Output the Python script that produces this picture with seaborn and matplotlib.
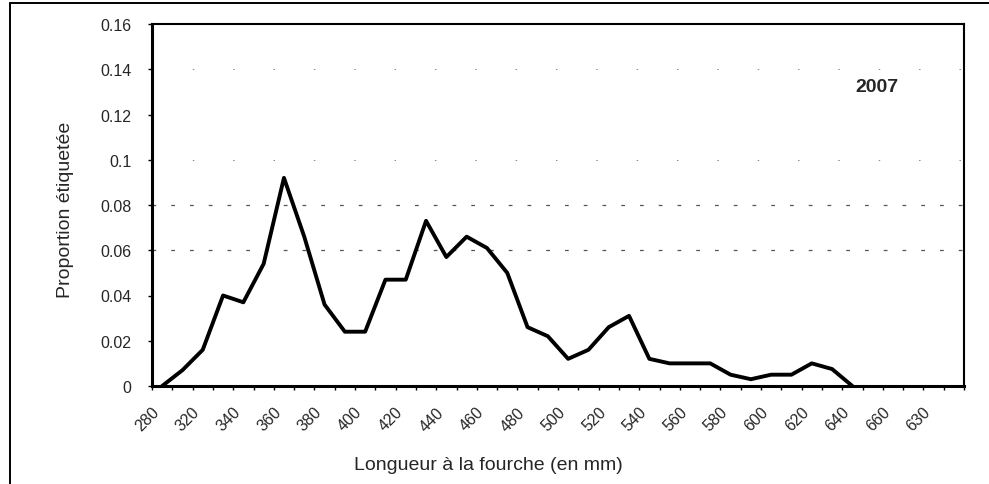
import matplotlib
matplotlib.use("Agg")
import matplotlib.pyplot as plt
from matplotlib.lines import Line2D
import numpy as np
import pandas as pd
import seaborn as sns

# ---- data ----
lengths = list(range(280, 680, 10))          # 40 length classes (mm)
proportion = [0.0, 0.007, 0.016, 0.040, 0.037, 0.054, 0.092, 0.066, 0.036,
              0.024, 0.024, 0.047, 0.047, 0.073, 0.057, 0.066, 0.061, 0.050,
              0.026, 0.022, 0.012, 0.016, 0.026, 0.031, 0.012, 0.010, 0.010,
              0.010, 0.005, 0.003, 0.005, 0.005, 0.010, 0.0075, 0.0]
x_tick_labels = ["280", "320", "340", "360", "380", "400", "420", "440", "460",
                 "480", "500", "520", "540", "560", "580", "600", "620", "640",
                 "660", "630"]
y_ticks = [0, 0.02, 0.04, 0.06, 0.08, 0.1, 0.12, 0.14, 0.16]
y_tick_labels = ["0", "0.02", "0.04", "0.06", "0.08", "0.1", "0.12", "0.14", "0.16"]
grid_strong = [0.06, 0.08]
grid_faint = [0.1, 0.14]
year_label = "2007"

sns.set_theme(style="white")
plt.rcParams["font.family"] = ["Liberation Sans", "DejaVu Sans"]

W, H = 989, 485
fig = plt.figure(figsize=(W / 100, H / 100), dpi=100)
ax = fig.add_axes([152 / W, 1 - 387 / H, (964 - 152) / W, (387 - 25) / H])

n_cat = len(lengths)
df = pd.DataFrame({
    "pos": np.arange(len(proportion)) + 0.5,
    "prop": proportion,
})

for g in grid_strong:
    ax.axhline(g, color="#555555", lw=0.9, ls=(0, (3, 12)), zorder=1)
for g in grid_faint:
    ax.axhline(g, color="#888888", lw=0.7, ls=(0, (1.5, 40)), zorder=1)

sns.lineplot(data=df, x="pos", y="prop", color="black", lw=2.8, ax=ax,
             zorder=3, clip_on=False)

ax.set_xlim(0, n_cat)
ax.set_ylim(0, 0.16)

ax.set_xticks(np.arange(0, n_cat, 2) + 0.5)
ax.set_xticklabels(x_tick_labels, rotation=45, ha="right", fontsize=11.5)
ax.set_xticks(np.arange(0, n_cat + 1), minor=True)
ax.tick_params(axis="x", which="major", length=0, pad=13)
ax.tick_params(axis="x", which="minor", length=3, width=1, color="black",
               direction="out", bottom=True)

ax.set_yticks(y_ticks)
ax.set_yticklabels(y_tick_labels, fontsize=11.5)
ax.tick_params(axis="y", which="major", length=3, width=1, color="black",
               direction="out", left=True, pad=12)

ax.set_xlabel("Longueur à la fourche (en mm)", fontsize=14)
ax.set_ylabel("Proportion étiquetée", fontsize=14)
ax.xaxis.set_label_coords((488 - 152) / (964 - 152), -(465 - 387) / (387 - 25))
ax.xaxis.label.set_va("center")
ax.yaxis.set_label_coords(-(152 - 66) / (964 - 152), (387 - 210) / (387 - 25))
ax.yaxis.label.set_va("center")

for side in ["left", "bottom"]:
    ax.spines[side].set_linewidth(2.2)
    ax.spines[side].set_color("black")
for side in ["top", "right"]:
    ax.spines[side].set_linewidth(1.5)
    ax.spines[side].set_color("black")

ax.text(877 / W, 1 - 88 / H, year_label, transform=fig.transFigure,
        fontsize=14, fontweight="bold", ha="center", va="center")

# outer frame (visible top and left edges of the scanned chart)
fig.add_artist(Line2D([10 / W, 10 / W], [0, 1 - 4 / H], color="black", lw=1.4,
                      transform=fig.transFigure))
fig.add_artist(Line2D([10 / W, 1], [1 - 4 / H, 1 - 4 / H], color="black", lw=1.4,
                      transform=fig.transFigure))

fig.savefig("out.png", dpi=100, facecolor="white")
